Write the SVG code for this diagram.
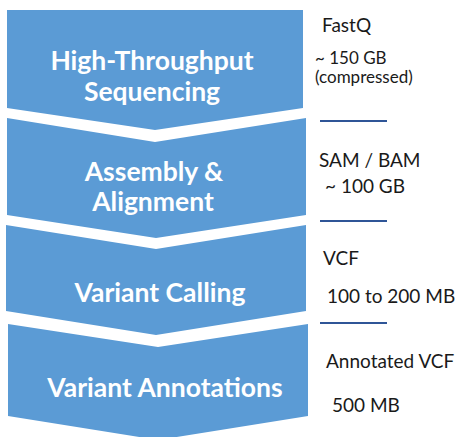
<svg xmlns="http://www.w3.org/2000/svg" width="461" height="437" viewBox="0 0 461 437">
<style>
.chev{fill:#5B9BD5;}
.lbl{font-family:Lato,"Open Sans",sans-serif;font-weight:bold;font-size:26.5px;fill:#FFFFFF;text-anchor:middle;}
.note{font-family:Lato,"Open Sans",sans-serif;font-size:19px;fill:#1A1A1A;}
.small{font-size:17px;}
.sep{stroke:#2F5597;stroke-width:2;}
</style>
<rect width="461" height="437" fill="#FFFFFF"/>
<g id="step1">
<polygon class="chev" points="7,10 303,10 303,108 155,130 7,108"/>
<text class="lbl" x="152" y="70">High-Throughput</text>
<text class="lbl" x="152" y="101">Sequencing</text>
</g>
<g id="step2">
<polygon class="chev" points="7,118 155,142 306,118 306,215 156,238 7,215"/>
<text class="lbl" x="154" y="181">Assembly &amp;</text>
<text class="lbl" x="153" y="211">Alignment</text>
</g>
<g id="step3">
<polygon class="chev" points="6,225 156,249 306,225 306,311 156,335 6,311"/>
<text class="lbl" x="160" y="302">Variant Calling</text>
</g>
<g id="step4">
<polygon class="chev" points="8,324 158,347 308,324 308,416 158,440 8,416"/>
<text class="lbl" x="165" y="397">Variant Annotations</text>
</g>
<g id="notes">
<text class="note" x="322" y="32">FastQ</text>
<text class="note small" x="315" y="64">~ 150 GB</text>
<text class="note small" x="315" y="83">(compressed)</text>
<text class="note" x="319" y="167">SAM / BAM</text>
<text class="note" x="325" y="193">~ 100 GB</text>
<text class="note" x="323" y="265">VCF</text>
<text class="note" x="327" y="303">100 to 200 MB</text>
<text class="note" x="326" y="368">Annotated VCF</text>
<text class="note" x="332" y="412">500 MB</text>
</g>
<g id="connectors">
<line class="sep" x1="320" y1="121" x2="387" y2="121"/>
<line class="sep" x1="320" y1="221" x2="387" y2="221"/>
<line class="sep" x1="320" y1="323" x2="387" y2="323"/>
</g>
</svg>
